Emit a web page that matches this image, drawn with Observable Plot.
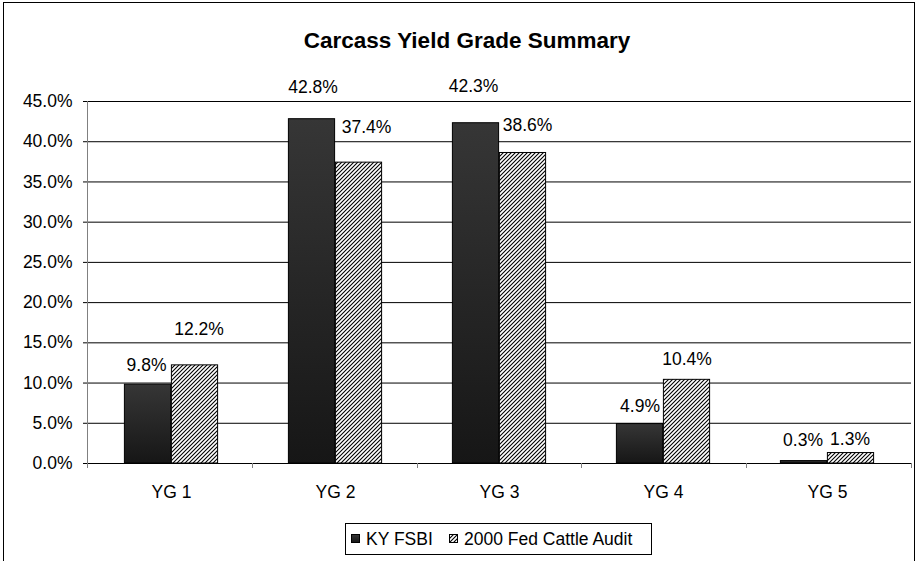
<!DOCTYPE html>
<html><head><meta charset="utf-8">
<script src="https://cdn.jsdelivr.net/npm/d3@7"></script>
<script src="https://cdn.jsdelivr.net/npm/@observablehq/plot@0.6"></script>
<style>
html,body{margin:0;padding:0;background:#fff;}
</style>
</head><body><div id="chart"></div>
<script>
const chartTitle = "Carcass Yield Grade Summary";
const categories = ["YG 1", "YG 2", "YG 3", "YG 4", "YG 5"];
const seriesNames = ["KY FSBI", "2000 Fed Cattle Audit"];
const kyFsbi = [9.8, 42.8, 42.3, 4.9, 0.3];
const fedCattleAudit = [12.2, 37.4, 38.6, 10.4, 1.3];
const yTicks = [0, 5, 10, 15, 20, 25, 30, 35, 40, 45];

const rows = categories.flatMap((c, i) => [
  {cat: c, series: seriesNames[0], value: kyFsbi[i], idx: i},
  {cat: c, series: seriesNames[1], value: fedCattleAudit[i], idx: i}
]);

const W = 923, H = 561, mL = 87, mR = 12, mT = 101, mB = 98;
const bw = (W - mL - mR) / categories.length;
const barW = 47, half = bw / 2;
const FONT = "'Liberation Sans', Arial, sans-serif";
const FS = 17.5;

// label placement (pixel nudges relative to bar top-centre), mimicking the reference
const labelNudge = {
  "KY FSBI": [[-1.5, -19], [1, -32], [-2.5, -37], [0, -18], [-1, -21]],
  "2000 Fed Cattle Audit": [[4, -36], [7.5, -35], [4.5, -28], [0, -20], [-1, -14]]
};

const labelMarks = rows.map(d => {
  const [nx, ny] = labelNudge[d.series][d.idx];
  const off = d.series === seriesNames[0] ? -barW / 2 : barW / 2;
  return Plot.text([d], {
    x: "cat", y: "value",
    text: r => r.value.toFixed(1) + "%",
    dx: off + nx, dy: ny,
    textAnchor: "middle", lineAnchor: "middle",
    fill: "#000", fontSize: FS
  });
});

const svg = Plot.plot({
  width: W, height: H,
  marginLeft: mL, marginRight: mR, marginTop: mT, marginBottom: mB,
  style: {fontFamily: FONT, fontSize: FS + "px", background: "#fff", color: "#000", overflow: "visible"},
  x: {domain: categories, padding: 0, tickSize: 0, tickPadding: 22, label: null},
  y: {domain: [0, 45], ticks: yTicks, tickSize: 4, tickPadding: 11, tickFormat: d => d.toFixed(1) + "%", label: null},
  marks: [
    Plot.ruleY(yTicks.filter(t => t > 0), {stroke: "#000", strokeWidth: 1}),
    Plot.barY(rows.filter(d => d.series === seriesNames[0]), {
      x: "cat", y: "value", fill: "url(#gradDark)", stroke: "#000", strokeWidth: 1,
      insetLeft: half - barW, insetRight: half
    }),
    Plot.barY(rows.filter(d => d.series === seriesNames[1]), {
      x: "cat", y: "value", fill: "url(#hatch)", stroke: "#000", strokeWidth: 1,
      insetLeft: half, insetRight: half - barW
    }),
    Plot.ruleY([0], {stroke: "#000", strokeWidth: 1}),
    ...labelMarks
  ]
});

const s = d3.select(svg);
const defs = s.insert("defs", ":first-child");
const g = defs.append("linearGradient").attr("id", "gradDark")
  .attr("x1", 0).attr("y1", 0).attr("x2", 0).attr("y2", 1);
g.append("stop").attr("offset", "0%").attr("stop-color", "#363636");
g.append("stop").attr("offset", "100%").attr("stop-color", "#161616");
const p = defs.append("pattern").attr("id", "hatch").attr("patternUnits", "userSpaceOnUse")
  .attr("width", 4).attr("height", 4);
p.append("rect").attr("width", 4).attr("height", 4).attr("fill", "#fff");
p.append("path").attr("d", "M-1,1 l2,-2 M0,4 l4,-4 M3,5 l2,-2")
  .attr("stroke", "#000").attr("stroke-width", 1.1);

const y0 = H - mB, yTop = mT;

// axis lines
s.append("line").attr("x1", mL + 0.5).attr("x2", mL + 0.5).attr("y1", yTop).attr("y2", y0)
  .attr("stroke", "#808080");
for (let i = 0; i <= categories.length; i++) {
  const xx = Math.round(mL + i * bw) + 0.5;
  s.append("line").attr("x1", xx).attr("x2", xx).attr("y1", y0).attr("y2", y0 + 5)
    .attr("stroke", "#808080");
}

// outer frame
s.append("rect").attr("x", 3.5).attr("y", 2.5).attr("width", 911).attr("height", 620)
  .attr("fill", "none").attr("stroke", "#000").attr("stroke-width", 1);

// title
s.append("text").attr("x", 467).attr("y", 48).attr("text-anchor", "middle")
  .attr("font-family", FONT).attr("font-weight", "bold").attr("font-size", 22.5)
  .attr("fill", "#000").text(chartTitle);

// legend
const lg = s.append("g").attr("font-family", FONT).attr("font-size", FS).attr("fill", "#000")
  .attr("text-anchor", "start");
lg.append("rect").attr("x", 345.5).attr("y", 523.5).attr("width", 306).attr("height", 31)
  .attr("fill", "#fff").attr("stroke", "#000");
lg.append("rect").attr("x", 351.5).attr("y", 534.5).attr("width", 8).attr("height", 8)
  .attr("fill", "url(#gradDark)").attr("stroke", "#000");
lg.append("text").attr("x", 366).attr("y", 545).attr("text-anchor", "start").text(seriesNames[0]);
lg.append("rect").attr("x", 449.5).attr("y", 534.5).attr("width", 8).attr("height", 8)
  .attr("fill", "url(#hatch)").attr("stroke", "#000");
lg.append("text").attr("x", 464).attr("y", 545).attr("text-anchor", "start").text(seriesNames[1]);

document.getElementById("chart").appendChild(svg);
</script>
</body></html>
